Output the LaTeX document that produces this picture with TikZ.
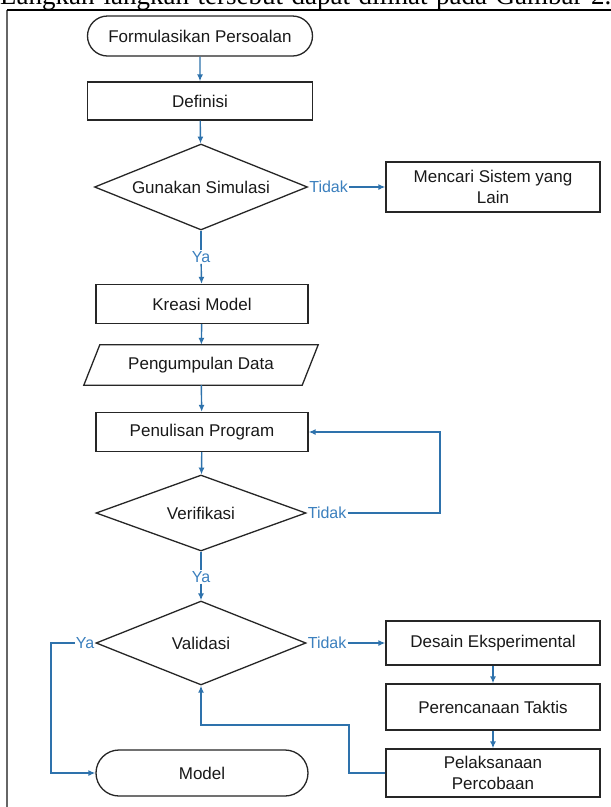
\documentclass[tikz,border=0pt]{standalone}
\usepackage{fontspec}
\setmainfont{Liberation Sans}
\newfontfamily\headfont{Liberation Serif}
\usetikzlibrary{shapes.geometric,shapes.misc,arrows.meta,calc}
\definecolor{connblue}{RGB}{46,114,172}
\definecolor{lblblue}{RGB}{60,128,190}
\begin{document}
\begin{tikzpicture}[x=1pt,y=-1pt,
  box/.style={draw=black!85, line width=1.3pt, rectangle, inner sep=0pt, align=center,
    font=\fontsize{17}{21}\selectfont, text=black!90},
  term/.style={box, rounded rectangle},
  dec/.style={box, diamond, aspect=2.5},
  lbl/.style={text=lblblue, font=\fontsize{16}{18}\selectfont, inner sep=1pt},
  conn/.style={draw=connblue, line width=1.4pt},
  arr/.style={conn, -{Latex[length=7pt,width=6pt]}},
]
\useasboundingbox (0,0) rectangle (611,807);
\clip (0,0) rectangle (611,807);
\fill[white] (0,0) rectangle (611,807);

% heading line (cut off at top)
\node[anchor=base west, inner sep=0pt, font=\headfont\fontsize{27}{30}\selectfont] (head) at (0,4.5)
  {\spaceskip=8.5pt Langkah-langkah tersebut dapat dilihat pada Gambar 2.};

% frame
\draw[black!60, line width=1.6pt] (7,808) -- (7,10);
\draw[black, line width=1.3pt] (7,10) -- (612,10);

% nodes
\node[term, minimum width=225pt, minimum height=40pt] (start) at (200,36) {Formulasikan Persoalan};
\node[box, minimum width=225pt, minimum height=38pt] (def) at (200,101) {Definisi};
\node[dec, minimum width=213pt, minimum height=86pt] (sim) at (201,187) {Gunakan Simulasi};
\node[box, minimum width=214pt, minimum height=50pt] (alt) at (493,187) {Mencari Sistem yang\\Lain};
\node[box, minimum width=212pt, minimum height=39pt] (kreasi) at (202,304) {Kreasi Model};
\node[minimum width=218pt, minimum height=40pt, inner sep=0pt, font=\fontsize{17}{21}\selectfont, text=black!90] (data) at (201,365) {Pengumpulan Data};
\draw[black!85, line width=1.3pt] ($(data.north west)+(8,0)$) -- ($(data.north east)+(8,0)$)
  -- ($(data.south east)+(-8,0)$) -- ($(data.south west)+(-8,0)$) -- cycle;
\node[box, minimum width=212pt, minimum height=39pt] (prog) at (202,432) {Penulisan Program};
\node[dec, minimum width=210pt, minimum height=76pt] (ver) at (201,513) {Verifikasi};
\node[dec, minimum width=210pt, minimum height=84pt] (val) at (201,643) {Validasi};
\node[box, minimum width=214pt, minimum height=44pt] (des) at (493,643) {Desain Eksperimental};
\node[box, minimum width=214pt, minimum height=46pt] (tak) at (493,707) {Perencanaan Taktis};
\node[box, minimum width=214pt, minimum height=48pt] (pel) at (493,773) {Pelaksanaan\\Percobaan};
\node[term, minimum width=212pt, minimum height=46pt] (model) at (202,773) {Model};

% labels
\node[lbl, anchor=west] (t1) at (sim.east) {Tidak};
\node[lbl] (y1) at (201,257) {Ya};
\node[lbl, anchor=west] (t2) at (ver.east) {Tidak};
\node[lbl] (y2) at (201,577) {Ya};
\node[lbl, anchor=west] (t3) at (val.east) {Tidak};
\node[lbl, anchor=east] (y3) at (val.west) {Ya};

\coordinate (c1) at (440,513);
\coordinate (c2) at (349,725);
\coordinate (c3) at (51,643);

% connectors
\draw[arr] (start) -- (def);
\draw[arr] (def) -- (sim);
\draw[arr] (t1) -- (alt);
\draw[conn] (sim.south) -- (y1);
\draw[arr] (y1) -- (kreasi);
\draw[arr] (kreasi) -- (data);
\draw[arr] (data) -- (prog);
\draw[arr] (prog) -- (ver);
\draw[arr] (t2.east) -- (t2.east -| c1) |- (prog.east);
\draw[conn] (ver.south) -- (y2);
\draw[arr] (y2) -- (val);
\draw[arr] (t3) -- (des);
\draw[arr] (des) -- (tak);
\draw[arr] (tak) -- (pel);
\draw[arr] (pel.west) -| (c2) -| (val.south);
\draw[arr] (y3.west) -- (c3) |- (model.west);
\end{tikzpicture}
\end{document}
